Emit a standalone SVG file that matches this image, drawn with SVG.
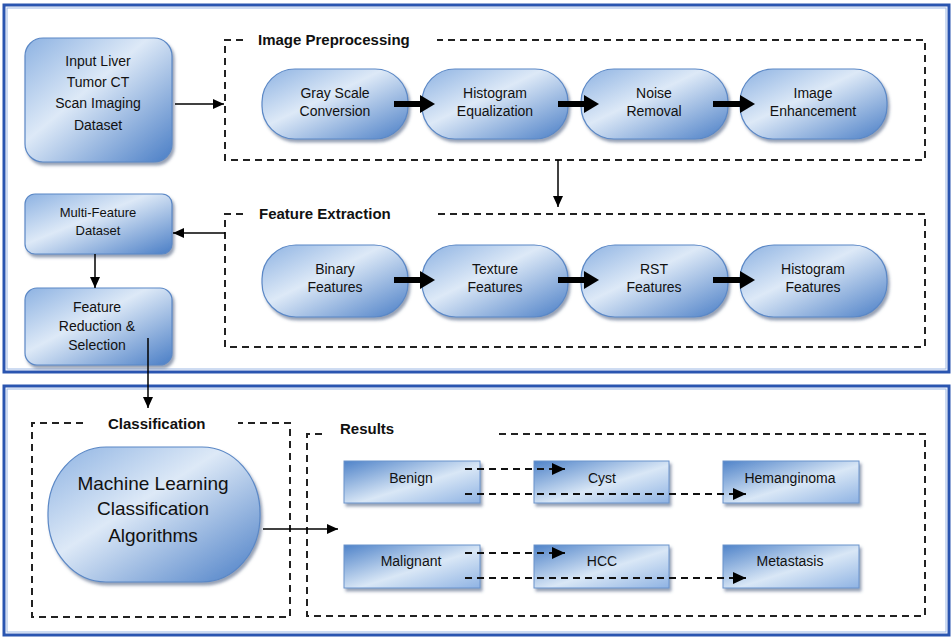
<svg xmlns="http://www.w3.org/2000/svg" width="952" height="637" viewBox="0 0 952 637">
<defs>
<linearGradient id="g" x1="0" y1="0" x2="1" y2="1">
<stop offset="0" stop-color="#8db2e2"/>
<stop offset="0.42" stop-color="#dde9f7"/>
<stop offset="1" stop-color="#4a7ec6"/>
</linearGradient>
<linearGradient id="gr" x1="0" y1="0" x2="1" y2="1">
<stop offset="0" stop-color="#4f83c9"/>
<stop offset="0.55" stop-color="#d9e7f6"/>
<stop offset="1" stop-color="#8fb3e3"/>
</linearGradient>
<filter id="sh" x="-10%" y="-10%" width="130%" height="130%">
<feDropShadow dx="2" dy="3" stdDeviation="1.5" flood-color="#3d5378" flood-opacity="0.55"/>
</filter>
<marker id="thick" markerUnits="userSpaceOnUse" markerWidth="15" markerHeight="18" refX="4" refY="9" orient="auto">
<path d="M0,0 L15,9 L0,18 Z" fill="#000"/>
</marker>
<marker id="thin" markerUnits="userSpaceOnUse" markerWidth="11" markerHeight="10" refX="11" refY="5" orient="auto">
<path d="M0,0 L11,5 L0,10 Z" fill="#000"/>
</marker>
<marker id="dash" markerUnits="userSpaceOnUse" markerWidth="13" markerHeight="12" refX="13" refY="6" orient="auto">
<path d="M0,0 L13,6 L0,12 Z" fill="#000"/>
</marker>
</defs>
<style>
text{font-family:"Liberation Sans",Arial,sans-serif;fill:#111;text-anchor:middle}
.t14{font-size:14px}
.t13{font-size:13px}
.t19{font-size:19px}
.ttl{font-size:15px;font-weight:bold;text-anchor:start}
.node{fill:url(#g);stroke:#5b88c6;stroke-width:1.2;filter:url(#sh)}
.rnode{fill:url(#gr);stroke:#6b93cc;stroke-width:1;filter:url(#sh)}
.frame{fill:none;stroke:#2a55b0;stroke-width:3}
.frame2{fill:none;stroke:#9db8e4;stroke-width:1}
.dbox{fill:none;stroke:#222;stroke-width:2;stroke-dasharray:7,5}
.ta{stroke:#000;stroke-width:6;fill:none;marker-end:url(#thick)}
.tn{stroke:#000;stroke-width:1.5;fill:none;marker-end:url(#thin)}
.da{stroke:#111;stroke-width:2;fill:none;stroke-dasharray:7,5;marker-end:url(#dash)}
</style>
<rect width="952" height="637" fill="#fff"/>

<g id="frames">
<rect class="frame" x="4" y="5" width="945" height="367"/>
<rect class="frame2" x="7" y="8" width="939" height="361"/>
<rect class="frame" x="4" y="386" width="945" height="249"/>
<rect class="frame2" x="7" y="389" width="939" height="243"/>
</g>

<g id="image-preprocessing">
<path class="dbox" d="M243,40 H225 V160 H925 V40 H437"/>
<text class="ttl" x="258" y="45">Image Preprocessing</text>
</g>
<g id="feature-extraction">
<path class="dbox" d="M243,214 H225 V347 H925 V214 H437"/>
<text class="ttl" x="259" y="219">Feature Extraction</text>
</g>
<g id="classification">
<path class="dbox" d="M83,423 H32 V617 H290 V423 H238"/>
<text class="ttl" x="108" y="429">Classification</text>
</g>
<g id="results">
<path class="dbox" d="M322,434 H307 V616 H925 V434 H495"/>
<text class="ttl" x="340" y="434">Results</text>
</g>

<g id="input-dataset">
<rect class="node" x="25" y="38" width="147" height="124" rx="18"/>
<text class="t14" x="98" y="66">Input Liver</text>
<text class="t14" x="98" y="87">Tumor CT</text>
<text class="t14" x="98" y="108">Scan Imaging</text>
<text class="t14" x="98" y="130">Dataset</text>
</g>
<g id="gray-scale">
<rect class="node" x="262" y="69" width="146" height="70" rx="33"/>
<text class="t14" x="335" y="98">Gray Scale</text>
<text class="t14" x="335" y="116">Conversion</text>
</g>
<g id="histogram-eq">
<rect class="node" x="422" y="69" width="146" height="70" rx="33"/>
<text class="t14" x="495" y="98">Histogram</text>
<text class="t14" x="495" y="116">Equalization</text>
</g>
<g id="noise-removal">
<rect class="node" x="581" y="69" width="147" height="70" rx="33"/>
<text class="t14" x="654" y="98">Noise</text>
<text class="t14" x="654" y="116">Removal</text>
</g>
<g id="image-enhancement">
<rect class="node" x="740" y="69" width="147" height="70" rx="33"/>
<text class="t14" x="813" y="98">Image</text>
<text class="t14" x="813" y="116">Enhancement</text>
</g>

<g id="binary-features">
<rect class="node" x="262" y="245" width="146" height="72" rx="34"/>
<text class="t14" x="335" y="274">Binary</text>
<text class="t14" x="335" y="292">Features</text>
</g>
<g id="texture-features">
<rect class="node" x="422" y="245" width="146" height="72" rx="34"/>
<text class="t14" x="495" y="274">Texture</text>
<text class="t14" x="495" y="292">Features</text>
</g>
<g id="rst-features">
<rect class="node" x="581" y="245" width="147" height="72" rx="34"/>
<text class="t14" x="654" y="274">RST</text>
<text class="t14" x="654" y="292">Features</text>
</g>
<g id="histogram-features">
<rect class="node" x="740" y="245" width="147" height="72" rx="34"/>
<text class="t14" x="813" y="274">Histogram</text>
<text class="t14" x="813" y="292">Features</text>
</g>

<g id="multi-feature-dataset">
<rect class="node" x="25" y="194" width="147" height="60" rx="10"/>
<text class="t13" x="98" y="217">Multi-Feature</text>
<text class="t13" x="98" y="235">Dataset</text>
</g>
<g id="feature-reduction">
<rect class="node" x="25" y="288" width="147" height="77" rx="12"/>
<text class="t14" x="97" y="312">Feature</text>
<text class="t14" x="97" y="331">Reduction &amp;</text>
<text class="t14" x="97" y="350">Selection</text>
</g>

<g id="ml-algorithms">
<rect class="node" x="48" y="447" width="212" height="135" rx="58" ry="66"/>
<text class="t19" x="153" y="490">Machine Learning</text>
<text class="t19" x="153" y="515">Classification</text>
<text class="t19" x="153" y="542">Algorithms</text>
</g>

<g id="benign">
<rect class="rnode" x="344" y="461" width="136" height="42"/>
<text class="t14" x="411" y="483">Benign</text>
</g>
<g id="cyst">
<rect class="rnode" x="534" y="461" width="135" height="42"/>
<text class="t14" x="602" y="483">Cyst</text>
</g>
<g id="hemanginoma">
<rect class="rnode" x="723" y="461" width="136" height="42"/>
<text class="t14" x="790" y="483">Hemanginoma</text>
</g>
<g id="malignant">
<rect class="rnode" x="344" y="545" width="136" height="43"/>
<text class="t14" x="411" y="566">Malignant</text>
</g>
<g id="hcc">
<rect class="rnode" x="534" y="545" width="135" height="43"/>
<text class="t14" x="602" y="566">HCC</text>
</g>
<g id="metastasis">
<rect class="rnode" x="723" y="545" width="136" height="43"/>
<text class="t14" x="790" y="566">Metastasis</text>
</g>

<g id="connectors">
<line class="tn" x1="175" y1="104" x2="224" y2="104"/>
<line class="ta" x1="394" y1="104" x2="424" y2="104"/>
<line class="ta" x1="558" y1="104" x2="588" y2="104"/>
<line class="ta" x1="713" y1="104" x2="744" y2="104"/>
<line class="tn" x1="558" y1="160" x2="558" y2="207"/>
<line class="ta" x1="394" y1="280" x2="424" y2="280"/>
<line class="ta" x1="558" y1="280" x2="588" y2="280"/>
<line class="ta" x1="713" y1="280" x2="744" y2="280"/>
<line class="tn" x1="225" y1="233" x2="173" y2="233"/>
<line class="tn" x1="95" y1="254" x2="95" y2="288"/>
<line class="tn" x1="148" y1="338" x2="148" y2="408"/>
<line class="tn" x1="263" y1="529" x2="338" y2="529"/>
<line class="da" x1="465" y1="469" x2="565" y2="469"/>
<line class="da" x1="465" y1="494" x2="746" y2="494"/>
<line class="da" x1="465" y1="553" x2="565" y2="553"/>
<line class="da" x1="465" y1="578" x2="746" y2="578"/>
</g>
</svg>
